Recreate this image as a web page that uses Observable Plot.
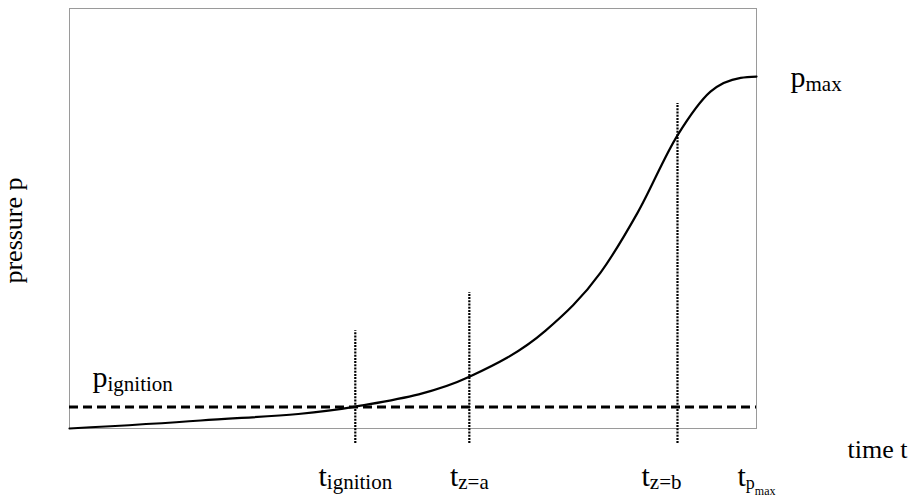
<!DOCTYPE html>
<html>
<head>
<meta charset="utf-8">
<script src="https://cdn.jsdelivr.net/npm/d3@7"></script>
<script src="https://cdn.jsdelivr.net/npm/@observablehq/plot@0.6"></script>
<style>
  body { margin: 0; background: #fff; }
  svg { display: block; }
  svg text, svg tspan { font-family: "Liberation Serif", "Times New Roman", serif !important; }
</style>
</head>
<body>
<div id="chart"></div>
<script>
// Pressure rise during a closed-vessel explosion (arbitrary units, 0–100)
const time = [0, 19.1, 41.6, 58.2, 69.3, 77.3, 82.7, 88.5, 93.3, 97.7, 100];
const pressure = [0, 1.9, 5.2, 12.3, 23.3, 37.1, 51.4, 69.8, 80.2, 83.5, 83.8];

// Characteristic pressures
const pIgnition = 5.1;
const pMax = 83.8;

// Characteristic times (marker lines) and how far each marker reaches
const markerTimes = [41.6, 58.2, 88.5];
const markerTops = [23.3, 32.4, 77.4];
const markerBase = -3.6;

// Time annotations below the frame: t with subscript (and sub-subscript)
const timeMarks = [41.6, 58.2, 88.5, 100];
const timeSubs = ["ignition", "z=a", "z=b", "p"];
const timeSubSubs = ["", "", "", "max"];

const serif = "Liberation Serif, Times New Roman, serif";
const curve = time.map((t, i) => ({t, p: pressure[i]}));

// Turns a plain text label into symbol + subscript tspans
function richText(base, parts) {
  return (index, scales, values, dimensions, context, next) => {
    const g = next(index, scales, values, dimensions, context);
    d3.select(g).selectAll("text").each(function (i) {
      const el = d3.select(this).text(null);
      el.append("tspan").attr("font-size", 30).text(base);
      for (const [str, size, dy] of parts(i)) {
        if (str) el.append("tspan").attr("font-size", size).attr("dy", dy).text(str);
      }
    });
    return g;
  };
}

const chart = Plot.plot({
  width: 914,
  height: 496,
  marginLeft: 69,
  marginRight: 158,
  marginTop: 8,
  marginBottom: 68,
  x: {domain: [0, 100], axis: null},
  y: {domain: [0, 100], axis: null},
  style: {background: "#fff", color: "#000", overflow: "visible"},
  marks: [
    Plot.frame({stroke: "#9a9a9a", strokeWidth: 1}),
    Plot.ruleY([pIgnition], {x1: 0, x2: 100, stroke: "#000", strokeWidth: 3, strokeDasharray: "9,5"}),
    Plot.ruleX(markerTimes, {
      y1: markerBase,
      y2: (d, i) => markerTops[i],
      stroke: "#000",
      strokeWidth: 2.2,
      strokeDasharray: "2,1.2"
    }),
    Plot.line(curve, {x: "t", y: "p", curve: "monotone-x", stroke: "#000", strokeWidth: 2.2}),

    // axis titles
    Plot.text(["pressure p"], {
      frameAnchor: "left", rotate: -90, dx: -56, dy: 12,
      textAnchor: "middle", lineAnchor: "middle",
      fontSize: 26, fontFamily: serif, fill: "#000"
    }),
    Plot.text(["time t"], {
      frameAnchor: "bottom-right", dx: 91, dy: 29,
      textAnchor: "start", lineAnchor: "bottom", fontSize: 26, fontFamily: serif, fill: "#000"
    }),

    // pressure annotations
    Plot.text([pIgnition], {
      x: 0, y: d => d, text: () => "p", dx: 23, dy: -20,
      textAnchor: "start", lineAnchor: "bottom", fontFamily: serif, fill: "#000",
      render: richText("p", () => [["ignition", 21, 4]])
    }),
    Plot.text([pMax], {
      x: 100, y: d => d, text: () => "p", dx: 34, dy: 10,
      textAnchor: "start", lineAnchor: "bottom", fontFamily: serif, fill: "#000",
      render: richText("p", () => [["max", 21, 4]])
    }),

    // time annotations
    Plot.text(timeMarks, {
      filter: (d, i) => i !== 2,
      x: d => d, y: 0, text: () => "t", dy: 57,
      textAnchor: "middle", lineAnchor: "bottom", fontFamily: serif, fill: "#000",
      render: richText("t", i => [[timeSubs[i], i === 3 ? 18 : 21, 3], [timeSubSubs[i], 12, 6]])
    }),
    Plot.text(timeMarks, {
      filter: (d, i) => i === 2,
      x: d => d, y: 0, text: () => "t", dx: 4, dy: 57,
      textAnchor: "end", lineAnchor: "bottom", fontFamily: serif, fill: "#000",
      render: richText("t", i => [[timeSubs[i], 21, 3]])
    })
  ]
});

document.getElementById("chart").append(chart);
</script>
</body>
</html>
